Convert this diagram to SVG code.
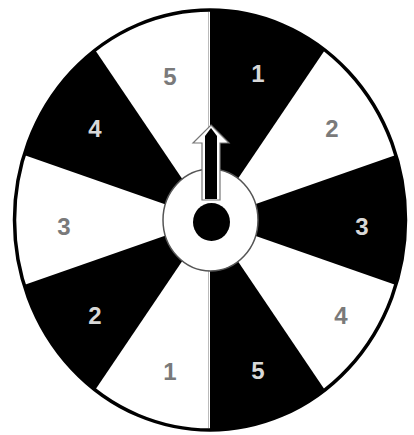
<svg xmlns="http://www.w3.org/2000/svg" width="414" height="435" viewBox="0 0 414 435">
  <style>
    .blk { fill: #000; }
    .lbl { font-family: "Liberation Sans", Arial, sans-serif; font-weight: bold; font-size: 24px; text-anchor: middle; }
    .onw { fill: #7a7a7a; }
    .onb { fill: #d8d8d8; }
  </style>
  <rect width="414" height="435" fill="#fff"/>
  <g id="wheel">
    <ellipse cx="210" cy="220" rx="195.5" ry="210" fill="#fff"/>
    <g id="sectors">
      <path class="blk" d="M210,220 L210,10 A195.5,210 0 0 1 324.9,50.1 Z"/>
      <path class="blk" d="M210,220 L395.9,155.1 A195.5,210 0 0 1 395.9,284.9 Z"/>
      <path class="blk" d="M210,220 L324.9,389.9 A195.5,210 0 0 1 210,430 Z"/>
      <path class="blk" d="M210,220 L95.1,389.9 A195.5,210 0 0 1 24.1,284.9 Z"/>
      <path class="blk" d="M210,220 L24.1,155.1 A195.5,210 0 0 1 95.1,50.1 Z"/>
      <line x1="208.5" y1="12" x2="208.5" y2="170" stroke="#bbb" stroke-width="1"/>
      <line x1="208.5" y1="270" x2="208.5" y2="428" stroke="#bbb" stroke-width="1"/>
    </g>
    <ellipse cx="210" cy="220" rx="195.5" ry="210" fill="none" stroke="#000" stroke-width="3.5"/>
  </g>
  <g id="labels">
    <text class="lbl onw" x="170" y="85">5</text>
    <text class="lbl onb" x="258" y="82">1</text>
    <text class="lbl onw" x="332" y="137">2</text>
    <text class="lbl onb" x="362" y="235">3</text>
    <text class="lbl onw" x="341" y="324">4</text>
    <text class="lbl onb" x="258" y="379">5</text>
    <text class="lbl onw" x="170" y="380">1</text>
    <text class="lbl onb" x="95" y="324">2</text>
    <text class="lbl onw" x="64" y="235">3</text>
    <text class="lbl onb" x="95" y="137">4</text>
  </g>
  <g id="hub">
    <ellipse cx="210.5" cy="220" rx="47.5" ry="51" fill="#fff" stroke="#555" stroke-width="1.5"/>
    <ellipse cx="211.5" cy="222" rx="18.5" ry="19" fill="#000"/>
  </g>
  <g id="pointer">
    <path d="M211,125 L229,143 L220,143 L220,200 L202,200 L202,143 L193,143 Z" fill="#fff" stroke="#777" stroke-width="1.2"/>
    <path d="M211,128 L217,136 L217,199 L205,199 L205,136 Z" fill="#000"/>
  </g>
</svg>
